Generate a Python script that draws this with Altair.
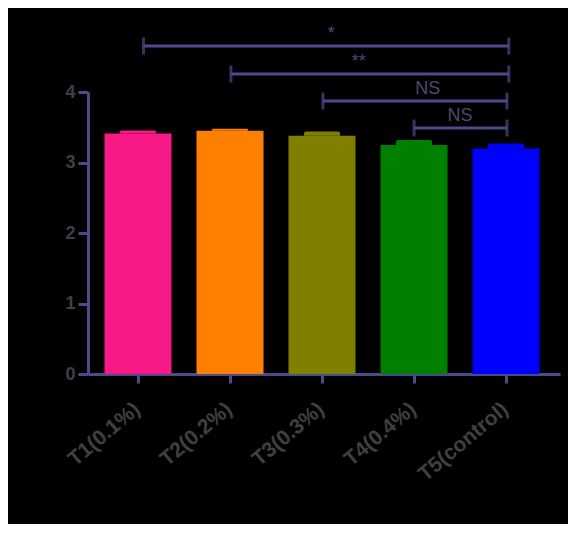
import altair as alt
import pandas as pd

groups = ["T1(0.1%)", "T2(0.2%)", "T3(0.3%)", "T4(0.4%)", "T5(control)"]
pos = [1, 2, 3, 4, 5]
means = [3.41, 3.45, 3.38, 3.25, 3.20]
errors = [0.045, 0.03, 0.06, 0.07, 0.07]
colors = ["#F71985", "#FF8000", "#808000", "#008000", "#0000FF"]

br_start = [1.06, 2.01, 3.01, 4.0]
br_end = [5.03, 5.03, 5.01, 5.01]
br_y = [4.652, 4.255, 3.872, 3.489]
br_label = ["*", "**", "NS", "NS"]
br_text_x = [3.1, 3.4, 4.15, 4.5]

df = pd.DataFrame({"pos": pos, "group": groups, "mean": means,
                   "upper": [m + e for m, e in zip(means, errors)]})
br = pd.DataFrame({"x1": br_start, "x2": br_end, "y": br_y,
                   "label": br_label, "tx": br_text_x})

AX = "#4B4B8C"
LBL = "#404040"
FONT = "Liberation Sans"

xscale = alt.Scale(domain=[0.511, 5.532], nice=False, zero=False)
yscale = alt.Scale(domain=[0, 4], nice=False)
color = alt.Color("group:N", scale=alt.Scale(domain=groups, range=colors), legend=None)

label_expr = ("datum.value == 1 ? 'T1(0.1%)' : datum.value == 2 ? 'T2(0.2%)' : "
              "datum.value == 3 ? 'T3(0.3%)' : datum.value == 4 ? 'T4(0.4%)' : 'T5(control)'")

bars = alt.Chart(df).mark_bar(size=67).encode(
    x=alt.X("pos:Q", scale=xscale, title=None,
            axis=alt.Axis(values=pos, labelExpr=label_expr, labelAngle=-40,
                          labelAlign="right", labelBaseline="top", labelPadding=15,
                          labelOffset=-8, labelOverlap=False, labelBound=False,
                          labelFont=FONT, labelFontWeight="bold", labelFontSize=21,
                          labelColor=LBL, domainColor=AX, domainWidth=3,
                          tickColor=AX, tickWidth=3, tickSize=9, grid=False)),
    y=alt.Y("mean:Q", scale=yscale, title=None,
            axis=alt.Axis(values=[0, 1, 2, 3, 4], format="d", labelFont=FONT,
                          labelFontWeight="bold",
                          labelFontSize=18, labelColor=LBL, labelPadding=3,
                          domainColor=AX, domainWidth=3, tickColor=AX, tickWidth=3,
                          tickSize=10, grid=False)),
    color=color,
)

caps = alt.Chart(df).mark_bar(size=36, cornerRadiusTopLeft=2, cornerRadiusTopRight=2).encode(
    x=alt.X("pos:Q", scale=xscale),
    y=alt.Y("mean:Q", scale=yscale),
    y2="upper:Q",
    color=color,
)

lines = alt.Chart(br).mark_rule(color=AX, strokeWidth=3).encode(
    x=alt.X("x1:Q", scale=xscale), x2="x2:Q", y=alt.Y("y:Q", scale=yscale))
lt = alt.Chart(br).mark_tick(color=AX, orient="vertical", size=17, thickness=3).encode(
    x=alt.X("x1:Q", scale=xscale), y=alt.Y("y:Q", scale=yscale))
rt = alt.Chart(br).mark_tick(color=AX, orient="vertical", size=17, thickness=3).encode(
    x=alt.X("x2:Q", scale=xscale), y=alt.Y("y:Q", scale=yscale))
texts = alt.Chart(br).mark_text(color="#4A4A72", font=FONT, fontSize=18,
                                baseline="bottom", dy=-3).encode(
    x=alt.X("tx:Q", scale=xscale), y=alt.Y("y:Q", scale=yscale), text="label:N")

chart = alt.layer(bars, caps, lines, lt, rt, texts).properties(
    width=472, height=282,
    autosize=alt.AutoSizeParams(type="none"),
    padding={"left": 80, "top": 84, "right": 8, "bottom": 150},
    background="#000000",
).configure_view(stroke=None)

chart.save("out.html", embed_options={"renderer": "svg", "actions": False})
